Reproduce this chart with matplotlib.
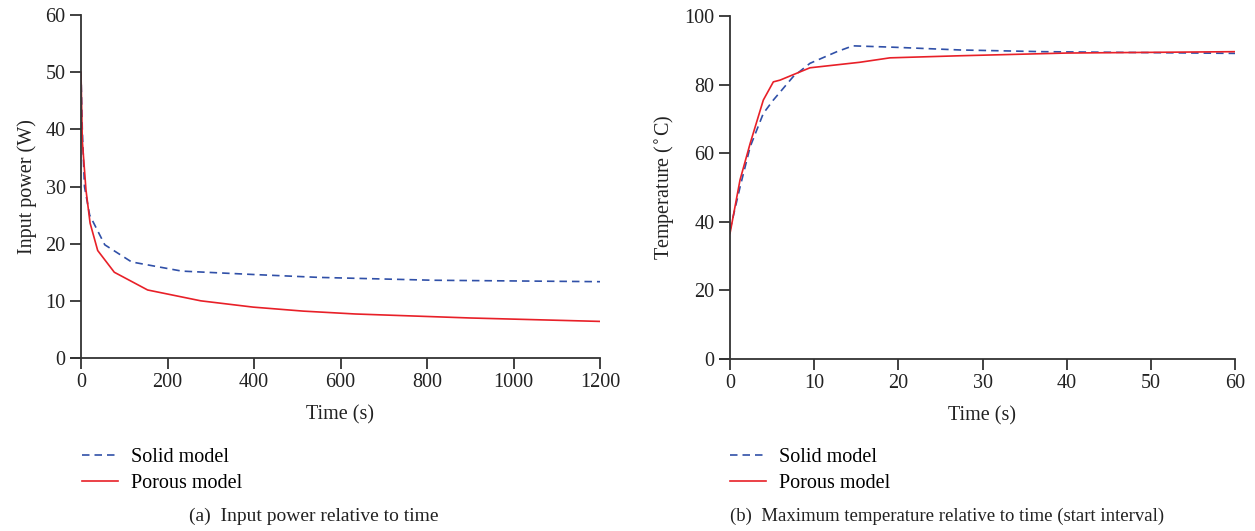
import matplotlib
matplotlib.use("Agg")
import matplotlib.pyplot as plt

# Panel (a): input power vs time
t_solid_a = [0, 3, 8, 20, 55, 117, 233, 400, 550, 815, 1200]
p_solid_a = [50, 40, 30, 25, 19.8, 16.8, 15.2, 14.6, 14.1, 13.6, 13.35]
t_por_a = [0, 3, 11.5, 21, 38.6, 77, 154, 277, 398, 514, 634, 900, 1200]
p_por_a = [50, 38, 29.4, 23.6, 18.8, 15.0, 11.9, 10.0, 8.9, 8.2, 7.7, 7.0, 6.4]

# Panel (b): max temperature vs time
t_solid_b = [0, 1.2, 2.4, 3.96, 5.15, 7.5, 9.5, 12.7, 14.6, 19.4, 27.3, 37.2, 60]
T_solid_b = [37.6, 50.2, 61.9, 71.6, 75.5, 82.3, 86.2, 89.6, 91.3, 90.9, 90.1, 89.6, 89.1]
t_por_b = [0, 1.19, 2.4, 3.96, 5.15, 5.94, 9.5, 15.4, 19, 27.2, 40, 60]
T_por_b = [36.6, 52.2, 62.9, 75.5, 80.8, 81.3, 84.9, 86.5, 87.8, 88.4, 89.2, 89.6]

xticks_a = [0, 200, 400, 600, 800, 1000, 1200]
yticks_a = [0, 10, 20, 30, 40, 50, 60]
xticks_b = [0, 10, 20, 30, 40, 50, 60]
yticks_b = [0, 20, 40, 60, 80, 100]

labels = ["Solid model", "Porous model"]

plt.rcParams['font.family'] = ['Liberation Serif', 'DejaVu Serif']
FS = 14.5

BLUE = '#3050a8'
RED = '#e82028'
SPINE = '#333333'
TXT = '#222222'
DASH = (4.5, 3)

fig = plt.figure(figsize=(12.55, 5.31), dpi=100)
W, H = 1255, 531

def make_ax(x0, x1, y0, y1):
    return fig.add_axes([x0 / W, 1 - y0 / H, (x1 - x0) / W, (y0 - y1) / H])

axa = make_ax(81, 600, 358, 15)
axb = make_ax(730, 1235, 359, 16)

def style(ax, xt, yt, xlabel, ylabel):
    ax.set_xlim(xt[0], xt[-1])
    ax.set_ylim(yt[0], yt[-1])
    ax.set_xticks(xt)
    ax.set_yticks(yt)
    for s in ['top', 'right']:
        ax.spines[s].set_visible(False)
    for s in ['left', 'bottom']:
        ax.spines[s].set_color(SPINE)
        ax.spines[s].set_linewidth(1.3)
    ax.tick_params(direction='out', length=8, width=1.3, color=SPINE,
                   labelsize=FS, pad=3, labelcolor=TXT)
    ax.set_xlabel(xlabel, fontsize=FS, labelpad=9, color=TXT)
    ax.set_ylabel(ylabel, fontsize=FS, labelpad=6, color=TXT)
    # bottom spine extends left to meet the tick marks
    ax.plot([-0.021, 0], [0, 0], transform=ax.transAxes, color=SPINE,
            lw=1.3, clip_on=False, solid_capstyle='butt')

style(axa, xticks_a, yticks_a, "Time (s)", "Input power (W)")
style(axb, xticks_b, yticks_b, "Time (s)", "Temperature ($^{\\circ}$C)")

la1, = axa.plot(t_solid_a, p_solid_a, color=BLUE, lw=1.2, dashes=DASH)
la2, = axa.plot(t_por_a, p_por_a, color=RED, lw=1.2)
lb1, = axb.plot(t_solid_b, T_solid_b, color=BLUE, lw=1.2, dashes=DASH)
lb2, = axb.plot(t_por_b, T_por_b, color=RED, lw=1.2)

for handles, x in (([la1, la2], 78), ([lb1, lb2], 726)):
    fig.legend(handles, labels, loc='upper left',
               bbox_to_anchor=(x / W, 1 - 444 / H), frameon=False,
               handlelength=1.8, handletextpad=0.65, labelspacing=0.35,
               fontsize=FS, borderpad=0.2, borderaxespad=0)

fig.text(314 / W, 1 - 516 / H, "(a)  Input power relative to time",
         ha='center', va='center', fontsize=14, color=TXT)
fig.text(947 / W, 1 - 516 / H,
         "(b)  Maximum temperature relative to time (start interval)",
         ha='center', va='center', fontsize=13.5, color=TXT)

fig.savefig("out.png", dpi=100)
